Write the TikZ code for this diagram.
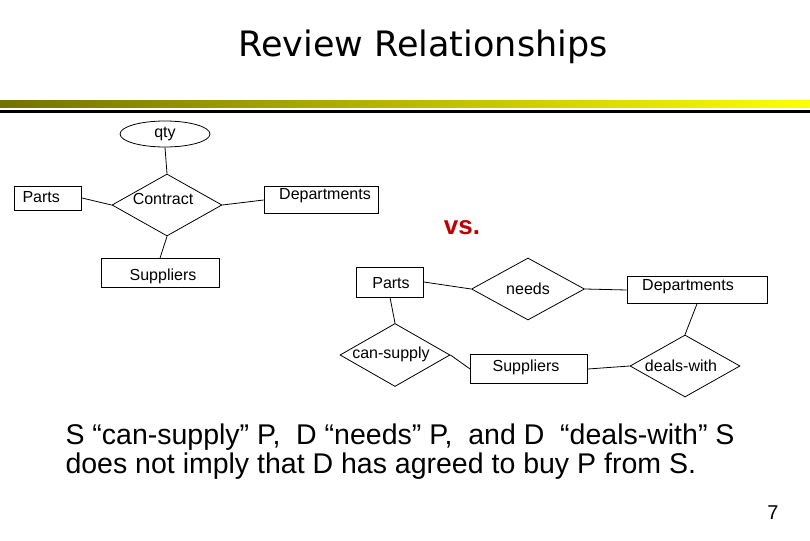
\documentclass[tikz,border=0pt]{standalone}
\usepackage{fontspec}
\setmainfont{Liberation Sans}
\newfontfamily\titlefont{DejaVu Sans}
\usetikzlibrary{shapes.geometric}
\begin{document}
\begin{tikzpicture}[x=1pt,y=-1pt,
  lab/.style={font=\fontsize{16}{18}\selectfont},
  ent/.style={draw,thick,rectangle,inner sep=0pt},
  rel/.style={draw,thick,diamond,inner sep=0pt,lab},
  ln/.style={thick}]
\useasboundingbox (0,0) rectangle (810,540);
\node[font=\titlefont\fontsize{35}{38}\selectfont] (title) at (423,47) {Review Relationships};
\shade[left color=olive!90!black,right color=yellow] (0,101) rectangle (810,108);
\fill (0,110) rectangle (810,113);
\node[draw,thick,ellipse,minimum width=90pt,minimum height=26pt,inner sep=0pt,lab] (qty) at (165,134) {qty};
\node[rel,minimum width=110pt,minimum height=62pt] (con) at (167,205) {};
\node[lab] (conl) at (163,199) {Contract};
\node[ent,minimum width=67pt,minimum height=24pt] (p1) at (48,198) {};
\node[lab,anchor=west] (p1l) at (19,197) {Parts};
\node[ent,minimum width=114pt,minimum height=27pt] (d1) at (321,200) {};
\node[lab] (d1l) at (325,196) {Departments};
\node[ent,minimum width=118pt,minimum height=29pt] (s1) at (160,273) {};
\node[lab] (s1l) at (163,276) {Suppliers};
\draw[ln] (qty.south) -- (con.north);
\draw[ln] (p1.east) -- (con.west);
\draw[ln] (con.east) -- (d1.west);
\draw[ln] (con.south) -- (s1.north);
\node[text=red!75!black,font=\bfseries\fontsize{26}{30}\selectfont] (vs) at (462,228) {vs.};
\node[ent,minimum width=67pt,minimum height=30pt] (p2) at (390,282) {};
\node[lab] (p2l) at (391,283) {Parts};
\node[rel,minimum width=113pt,minimum height=62pt] (nd) at (528,289) {needs};
\node[ent,minimum width=140pt,minimum height=27pt] (d2) at (697,290) {};
\node[lab] (d2l) at (688,287) {Departments};
\node[rel,minimum width=110pt,minimum height=63pt] (cs) at (395,355) {};
\node[lab] (csl) at (391,354) {can-supply};
\node[ent,minimum width=117pt,minimum height=29pt] (s2) at (529,369) {};
\node[lab] (s2l) at (526,367) {Suppliers};
\node[rel,minimum width=110pt,minimum height=62pt] (dw) at (685,366) {};
\node[lab] (dwl) at (681,366) {deals-with};
\draw[ln] (p2.east) -- (nd.west);
\draw[ln] (nd.east) -- (d2.west);
\draw[ln] (p2.south) -- (cs.north);
\draw[ln] (cs.east) -- (s2.west);
\draw[ln] (d2.south) -- (dw.north);
\draw[ln] (s2.east) -- (dw.west);
\node[anchor=west,align=left,font=\fontsize{28.5}{29}\selectfont] (txt) at (62,452) {S “can-supply” P,\ \ D “needs” P,\ \ and D\ \ “deals-with” S\\does not imply that D has agreed to buy P from S.};
\node[font=\fontsize{20}{24}\selectfont] (num) at (773,513) {7};
\end{tikzpicture}
\end{document}
